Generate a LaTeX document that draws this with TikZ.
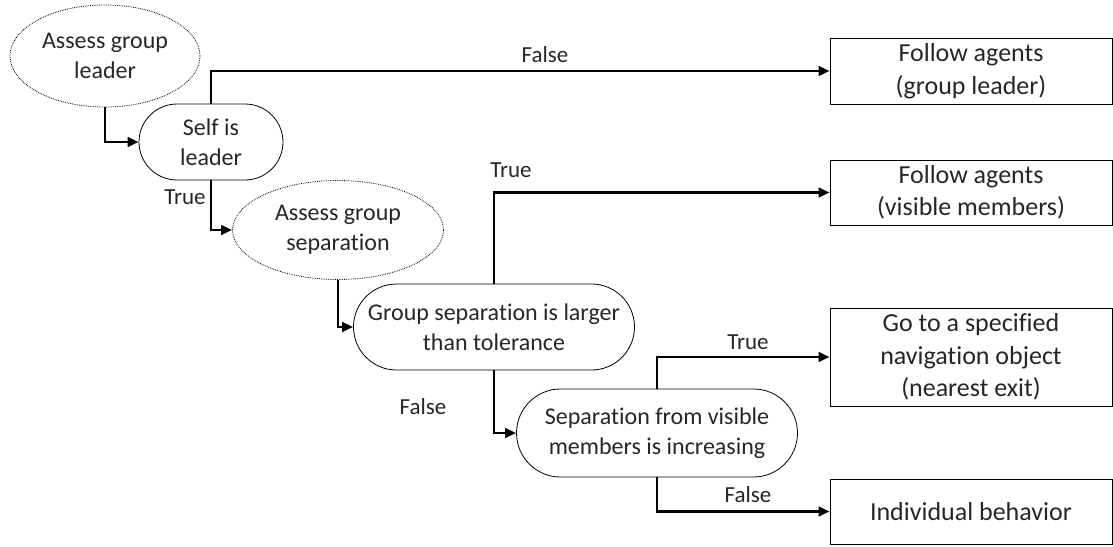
\documentclass[tikz,border=0pt]{standalone}
\usepackage{fontspec}
\setmainfont{Carlito}[Ligatures=NoCommon]
\usetikzlibrary{shapes.geometric,arrows.meta}
\definecolor{ink}{HTML}{262626}
\begin{document}
\begin{tikzpicture}[x=1pt,y=-1pt,
  every node/.style={text=ink,align=center,inner sep=0pt},
  txt/.style={font=\fontsize{24}{30}\selectfont},
  big/.style={font=\fontsize{26}{32.5}\selectfont},
  lbl/.style={font=\fontsize{23}{27}\selectfont},
  assess/.style={txt,ellipse,draw,densely dotted,line width=0.8pt},
  test/.style={txt,rectangle,draw,line width=0.8pt},
  action/.style={big,rectangle,draw,line width=0.8pt,minimum width=282pt},
  flow/.style={draw,line width=2.9pt,-{Triangle[length=11pt,width=9.5pt]}}]
\useasboundingbox (0,0) rectangle (1113,546);

% decision nodes
\node[assess,minimum width=190pt,minimum height=102pt] (lead) at (105,56) {Assess group\\leader};
\node[test,minimum width=144pt,minimum height=76pt,rounded corners=38pt] (self) at (211,142) {Self is\\leader};
\node[assess,minimum width=211pt,minimum height=99pt] (sep) at (338,230) {Assess group\\separation};
\node[test,minimum width=281pt,minimum height=86pt,rounded corners=43pt] (grp) at (494,327) {Group separation is larger\\than tolerance};
\node[test,minimum width=281pt,minimum height=88pt,rounded corners=44pt] (vis) at (657,433) {Separation from visible\\members is increasing};

% resulting behaviours
\node[action,minimum height=66pt] (b1) at (971,71) {Follow agents\\(group leader)};
\node[action,minimum height=65pt] (b2) at (971,192.5) {Follow agents\\(visible members)};
\node[action,minimum height=98pt] (b3) at (971,357) {Go to a specified\\navigation object\\(nearest exit)};
\node[action,minimum height=65pt] (b4) at (971,511.5) {Individual behavior};

% connectors
\draw[flow] (lead.south) |- (self.west);
\draw[flow] (self.north) |- (b1.west);
\draw[flow] (self.south) |- (sep.west);
\draw[flow] (sep.south) |- (grp.west);
\draw[flow] (grp.north) |- (b2.west);
\draw[flow] (grp.south) |- (vis.west);
\draw[flow] (vis.north) |- (b3.west);
\draw[flow] (vis.south) |- (b4.west);

% branch labels
\node[lbl] (l1) at (545,55) {False};
\node[lbl] (l2) at (185,197) {True};
\node[lbl] (l3) at (511,170) {True};
\node[lbl] (l4) at (423,407) {False};
\node[lbl] (l5) at (748,342) {True};
\node[lbl] (l6) at (748,495) {False};
\end{tikzpicture}
\end{document}
